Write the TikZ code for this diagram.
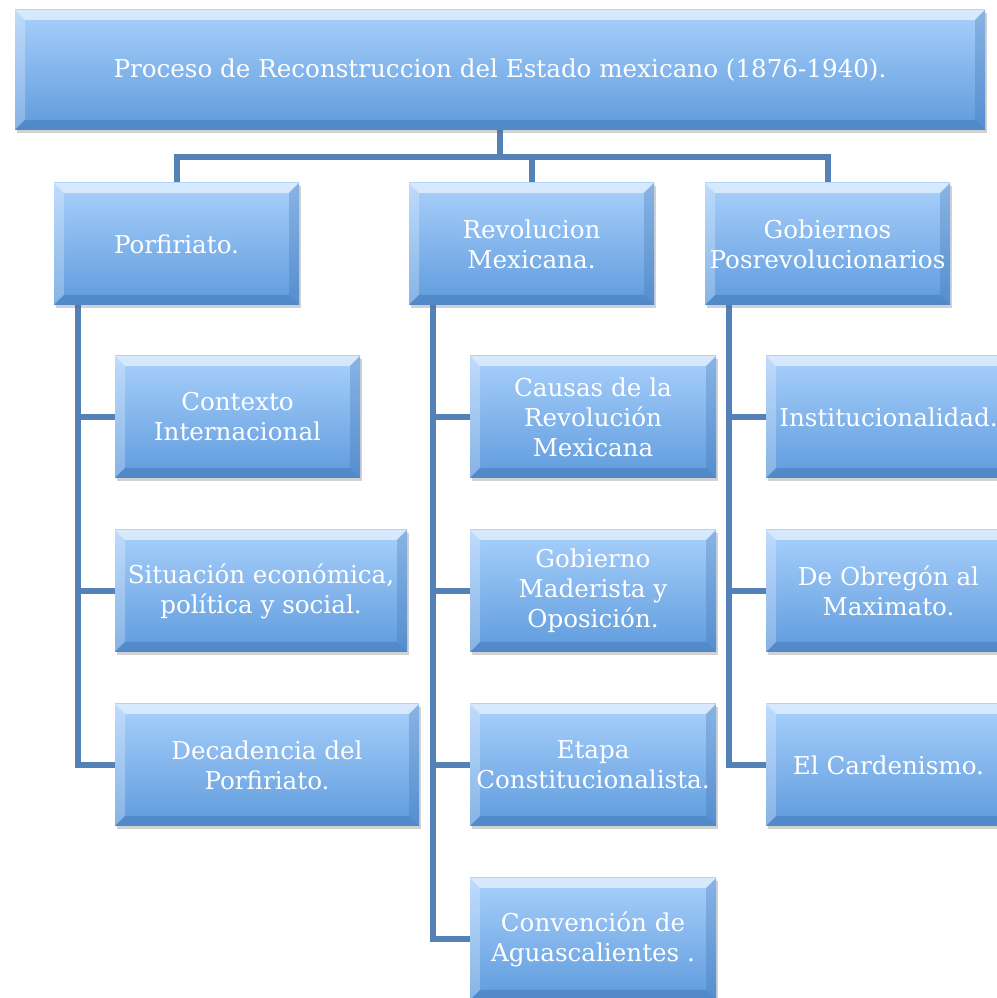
\documentclass[tikz,border=0pt]{standalone}
\usepackage{fontspec}
\setmainfont{DejaVu Serif}
\usetikzlibrary{shadows,backgrounds,calc}
\definecolor{facetop}{HTML}{A9D0FB}
\definecolor{facebot}{HTML}{5E9BDD}
\definecolor{lineblue}{HTML}{5482B8}
\definecolor{bevdark}{HTML}{3F72B0}
\tikzset{
  bevelbox/.style={
    minimum width=245pt, minimum height=122pt, inner sep=0pt, align=center,
    text=white, font=\fontsize{24.6}{30}\selectfont,
    top color=facetop, bottom color=facebot,
    drop shadow={shadow xshift=2pt, shadow yshift=-3pt, opacity=0.3, fill=black!60},
    path picture={
      \fill[white,opacity=0.55] (path picture bounding box.north west) -- (path picture bounding box.north east)
        -- ([shift={(-10pt,-10pt)}]path picture bounding box.north east) -- ([shift={(10pt,-10pt)}]path picture bounding box.north west) -- cycle;
      \fill[white,opacity=0.25] (path picture bounding box.north west) -- (path picture bounding box.south west)
        -- ([shift={(10pt,10pt)}]path picture bounding box.south west) -- ([shift={(10pt,-10pt)}]path picture bounding box.north west) -- cycle;
      \fill[bevdark,opacity=0.45] (path picture bounding box.south west) -- (path picture bounding box.south east)
        -- ([shift={(-10pt,10pt)}]path picture bounding box.south east) -- ([shift={(10pt,10pt)}]path picture bounding box.south west) -- cycle;
      \fill[bevdark,opacity=0.3] (path picture bounding box.north east) -- (path picture bounding box.south east)
        -- ([shift={(-10pt,10pt)}]path picture bounding box.south east) -- ([shift={(-10pt,-10pt)}]path picture bounding box.north east) -- cycle;
    }},
  conn/.style={draw=lineblue, line width=6pt}
}
\begin{document}
\begin{tikzpicture}[x=1pt,y=1pt]
\useasboundingbox (0,0) rectangle (996,998);
% level 0
\node[bevelbox, minimum width=970pt, minimum height=120pt] (top) at (500,928) {Proceso de Reconstruccion del Estado mexicano (1876-1940).};
% level 1
\node[bevelbox] (porf) at (176.5,754) {Porfiriato.};
\node[bevelbox] (rev) at (531.5,754) {Revolucion\\Mexicana.};
\node[bevelbox] (gob) at (827.5,754) {Gobiernos\\Posrevolucionarios};
% Porfiriato children
\node[bevelbox] (ctx) at (237.5,581) {Contexto\\Internacional};
\node[bevelbox, minimum width=292pt] (sit) at (261,407) {Situación económica,\\política y social.};
\node[bevelbox, minimum width=304pt] (dec) at (267,233) {Decadencia del\\Porfiriato.};
% Revolucion children
\node[bevelbox, minimum width=246pt] (cau) at (593,581) {Causas de la\\Revolución\\Mexicana};
\node[bevelbox, minimum width=246pt] (mad) at (593,407) {Gobierno\\Maderista y\\Oposición.};
\node[bevelbox, minimum width=246pt] (eta) at (593,233) {Etapa\\Constitucionalista.};
\node[bevelbox, minimum width=246pt] (con) at (593,59) {Convención de\\Aguascalientes .};
% Gobiernos children
\node[bevelbox] (ins) at (888.5,581) {Institucionalidad.};
\node[bevelbox] (obr) at (888.5,407) {De Obregón al\\Maximato.};
\node[bevelbox] (car) at (888.5,233) {El Cardenismo.};
\begin{pgfonlayer}{background}
\coordinate (bus) at (0,841);
\draw[conn] (top.south) -- (top.south |- bus);
\draw[conn] (porf.north) -- (porf.north |- bus) -- (gob.north |- bus) -- (gob.north);
\draw[conn] (rev.north) -- (rev.north |- bus);
\coordinate (pcol) at ([xshift=24pt]porf.south west);
\coordinate (rcol) at ([xshift=24pt]rev.south west);
\coordinate (gcol) at ([xshift=24pt]gob.south west);
\draw[conn] (pcol) |- (ctx.west);
\draw[conn] (pcol) |- (sit.west);
\draw[conn] (pcol) |- (dec.west);
\draw[conn] (rcol) |- (cau.west);
\draw[conn] (rcol) |- (mad.west);
\draw[conn] (rcol) |- (eta.west);
\draw[conn] (rcol) |- (con.west);
\draw[conn] (gcol) |- (ins.west);
\draw[conn] (gcol) |- (obr.west);
\draw[conn] (gcol) |- (car.west);
\end{pgfonlayer}
\end{tikzpicture}
\end{document}
